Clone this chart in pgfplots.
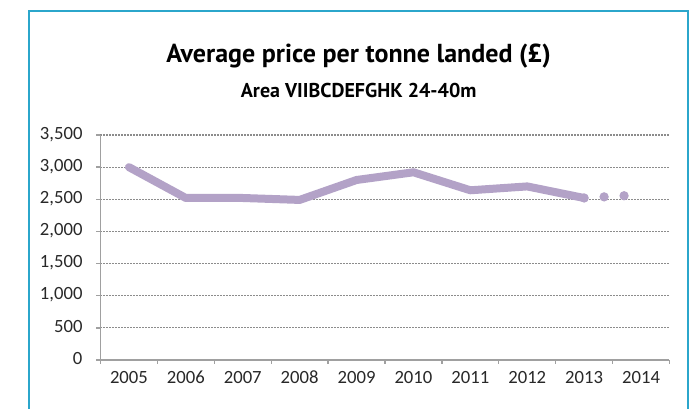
\documentclass[border=0pt]{standalone}
\usepackage{pgfplots}
\pgfplotsset{compat=1.18}
\usepackage{fontspec}
\setmainfont{Carlito}
\newfontfamily\titlefont{PT Sans}
\definecolor{lav}{RGB}{179,162,199}
\definecolor{framec}{RGB}{43,166,203}
\definecolor{gridc}{RGB}{140,140,140}
\definecolor{axisc}{RGB}{160,160,160}
\definecolor{tickc}{RGB}{40,40,40}
\begin{document}
\begin{tikzpicture}
\useasboundingbox (0,0) rectangle (520.5pt,306.75pt);
\fill[white] (0,0) rectangle (520.5pt,306.75pt);
\draw[framec, line width=1.5pt] (21.75pt,-5pt) -- (21.75pt,298.5pt) -- (516pt,298.5pt) -- (516pt,-5pt);
\node[anchor=base, inner sep=0pt, font=\titlefont\bfseries\fontsize{19.5}{22}\selectfont] at (269pt,259.5pt) {Average price per tonne landed (£)};
\node[anchor=base, inner sep=0pt, font=\titlefont\bfseries\fontsize{15}{18}\selectfont] at (269pt,233.25pt) {Area VIIBCDEFGHK 24-40m};
\begin{axis}[
  at={(75.375pt,36.75pt)}, anchor=south west,
  width=426.75pt, height=168.75pt, scale only axis,
  xmin=-0.5, xmax=9.5, ymin=0, ymax=3500,
  ytick={0,500,...,3500},
  xtick={-0.5,0.5,...,9.5},
  x tick label as interval,
  xticklabels={2005,2006,2007,2008,2009,2010,2011,2012,2013,2014},
  axis x line*=bottom, axis y line*=left,
  axis line style={axisc, line width=1.1pt},
  tick align=outside, major tick length=3pt,
  tick style={axisc, line width=1pt},
  ymajorgrids,
  grid style={gridc, line width=0.8pt, dash pattern=on 0.8pt off 1.45pt},
  ticklabel style={font=\fontsize{14}{16}\selectfont, text=tickc},
  typeset ticklabels with strut,
  yticklabel style={xshift=-7pt},
  scaled y ticks=false,
  /pgf/number format/.cd, 1000 sep={,}, assume math mode=true,
]
\addplot[lav, line width=6pt, line cap=round, line join=round] coordinates {(0,3000)(1,2520)(2,2520)(3,2490)(4,2800)(5,2920)(6,2640)(7,2700)(8,2520)};
\addplot[lav, line width=7pt, line cap=round, dash pattern=on 0pt off 15pt] coordinates {(8,2520)(9,2570)};
\end{axis}
\end{tikzpicture}
\end{document}
